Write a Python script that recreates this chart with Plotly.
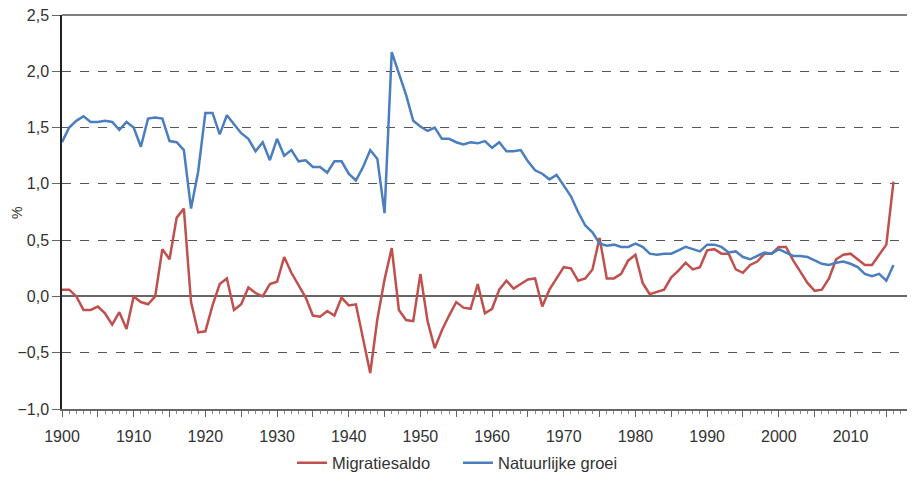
import plotly.graph_objects as go

years = list(range(1900, 2017))

migratiesaldo = [
    0.06, 0.06, 0.00, -0.12, -0.12, -0.09, -0.15, -0.25, -0.14, -0.29,
    0.00, -0.05, -0.07, 0.00, 0.42, 0.33, 0.70, 0.78, -0.05, -0.32,
    -0.31, -0.08, 0.11, 0.16, -0.12, -0.07, 0.08, 0.03, 0.00, 0.11,
    0.13, 0.35, 0.21, 0.10, -0.01, -0.17, -0.18, -0.13, -0.17, -0.01,
    -0.08, -0.07, -0.38, -0.68, -0.20, 0.15, 0.43, -0.12, -0.21, -0.22,
    0.20, -0.22, -0.46, -0.30, -0.17, -0.05, -0.10, -0.11, 0.11, -0.15,
    -0.11, 0.06, 0.14, 0.07, 0.11, 0.15, 0.16, -0.09, 0.06, 0.16,
    0.26, 0.25, 0.14, 0.16, 0.24, 0.52, 0.16, 0.16, 0.20, 0.32,
    0.37, 0.12, 0.02, 0.04, 0.06, 0.17, 0.23, 0.30, 0.24, 0.26,
    0.41, 0.42, 0.38, 0.38, 0.24, 0.21, 0.28, 0.31, 0.38, 0.38,
    0.44, 0.44, 0.32, 0.22, 0.12, 0.05, 0.06, 0.16, 0.33, 0.37,
    0.38, 0.33, 0.28, 0.28, 0.37, 0.46, 1.02,
]

natuurlijke_groei = [
    1.37, 1.50, 1.56, 1.60, 1.55, 1.55, 1.56, 1.55, 1.48, 1.55,
    1.50, 1.33, 1.58, 1.59, 1.58, 1.38, 1.37, 1.30, 0.78, 1.11,
    1.63, 1.63, 1.44, 1.61, 1.53, 1.45, 1.40, 1.29, 1.37, 1.21,
    1.40, 1.25, 1.30, 1.20, 1.21, 1.15, 1.15, 1.10, 1.20, 1.20,
    1.09, 1.03, 1.15, 1.30, 1.22, 0.74, 2.17, 1.98, 1.79, 1.56,
    1.51, 1.47, 1.50, 1.40, 1.40, 1.37, 1.35, 1.37, 1.36, 1.38,
    1.32, 1.37, 1.29, 1.29, 1.30, 1.20, 1.12, 1.09, 1.04, 1.08,
    0.99, 0.89, 0.75, 0.63, 0.57, 0.47, 0.45, 0.46, 0.44, 0.44,
    0.47, 0.44, 0.38, 0.37, 0.38, 0.38, 0.41, 0.44, 0.42, 0.40,
    0.46, 0.46, 0.44, 0.39, 0.40, 0.35, 0.33, 0.36, 0.39, 0.38,
    0.42, 0.39, 0.36, 0.36, 0.35, 0.32, 0.29, 0.28, 0.30, 0.31,
    0.29, 0.26, 0.20, 0.18, 0.20, 0.14, 0.28,
]

x_tick_values = list(range(1900, 2016, 5))
x_tick_labels = [str(v) if v % 10 == 0 else "" for v in x_tick_values]
y_tick_values = [-1.0, -0.5, 0.0, 0.5, 1.0, 1.5, 2.0, 2.5]

RED = "#C0504D"
BLUE = "#4A7EBF"
FONT = "Liberation Sans, Arial, sans-serif"

fig = go.Figure()
fig.add_trace(go.Scatter(x=years, y=migratiesaldo, mode="lines", name="Migratiesaldo",
                         line=dict(color=RED, width=2.5), legend="legend"))
fig.add_trace(go.Scatter(x=years, y=natuurlijke_groei, mode="lines", name="Natuurlijke groei",
                         line=dict(color=BLUE, width=2.5), legend="legend2"))

# solid top border at 2.5
fig.add_shape(type="line", xref="paper", yref="paper", x0=0, x1=1, y0=1, y1=1,
              line=dict(color="#555555", width=1.5), layer="above")

# y-axis unit label
fig.add_annotation(text="%", xref="paper", yref="paper", x=-0.053, y=0.497,
                   xanchor="center", yanchor="middle", showarrow=False, textangle=-90,
                   borderpad=0, font=dict(size=14, color="#333333"))

legend_common = dict(orientation="h", xanchor="left", yref="container", y=0.03,
                     yanchor="middle", font=dict(size=16.5, color="#333333"),
                     bgcolor="rgba(0,0,0,0)")

# the page body adds an 8px offset, so the figure is 8px smaller than the window
fig.update_layout(
    width=907, height=469,
    margin=dict(l=54, r=0, t=7, b=68),
    paper_bgcolor="white", plot_bgcolor="white",
    separators=", ",
    font=dict(family=FONT, size=16, color="#333333"),
    showlegend=True,
    legend=dict(x=0.2696, **legend_common),
    legend2=dict(x=0.4642, **legend_common),
    xaxis=dict(
        range=[1900, 2019], tickmode="array", tickvals=x_tick_values, ticktext=x_tick_labels,
        ticks="outside", ticklen=6, tickcolor="#666666", tickwidth=1,
        showline=True, linecolor="#666666", linewidth=1.5,
        showgrid=False, zeroline=False, automargin=False,
        minor=dict(dtick=1, tick0=1900, ticks="outside", ticklen=3, tickcolor="#888888", showgrid=False),
        tickfont=dict(size=16, color="#333333"),
        ticklabelstandoff=6, ticklabeloverflow="allow",
    ),
    yaxis=dict(
        range=[-1.0, 2.5], tickmode="array", tickvals=y_tick_values, tickformat=".1f",
        ticks="outside", ticklen=8, tickcolor="#666666",
        showline=True, linecolor="#222222", linewidth=1.5,
        showgrid=True, gridcolor="#555555", gridwidth=1.2, griddash="dash",
        zeroline=True, zerolinecolor="#666666", zerolinewidth=1.5,
        automargin=False, ticklabeloverflow="allow",
        tickfont=dict(size=16, color="#333333"),
    ),
)

fig.write_html("out.html")
